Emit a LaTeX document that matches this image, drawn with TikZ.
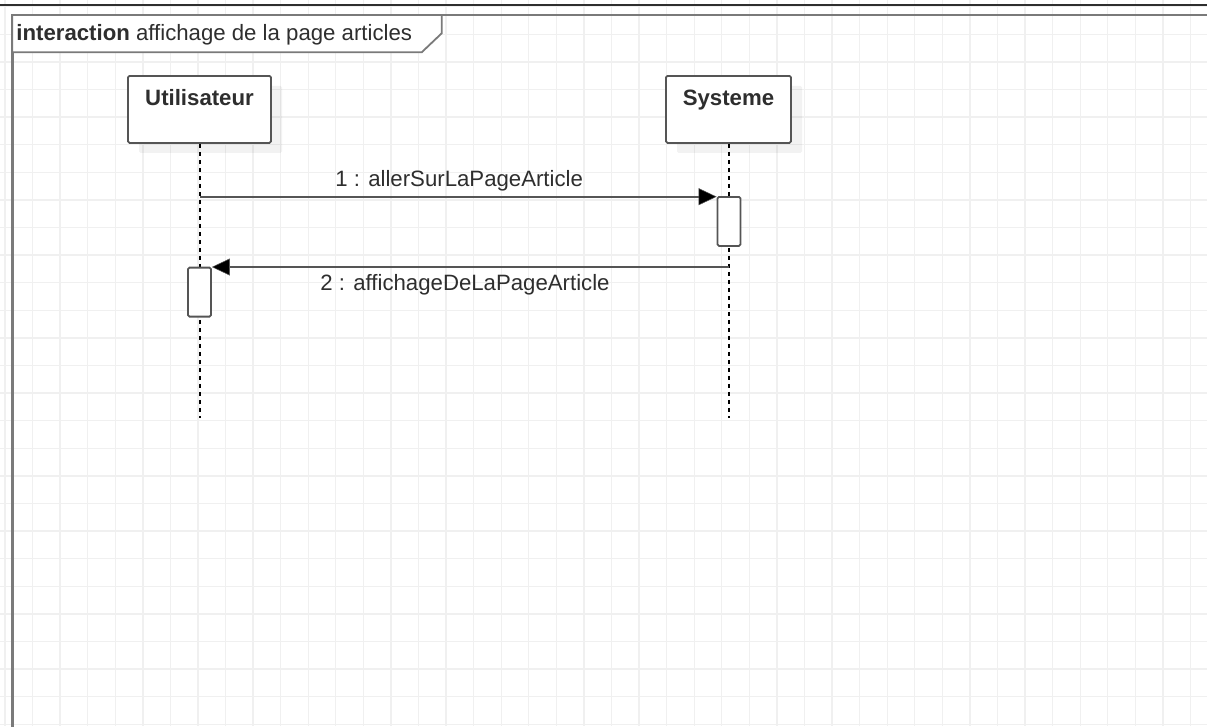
\documentclass[tikz,border=0pt]{standalone}
\usepackage{fontspec}
\setmainfont{Liberation Sans}
\usetikzlibrary{arrows.meta,shadows}

\definecolor{gridgray}{HTML}{F0F0F0}
\definecolor{framegray}{HTML}{7A7A7A}
\definecolor{linegray}{HTML}{555555}
\definecolor{textgray}{HTML}{2E2E2E}

\tikzset{
  gridline/.style={draw=gridgray, line width=1.3pt},
  umltext/.style={font=\fontsize{22.2}{25}\selectfont, text=textgray, inner sep=0pt},
  headbox/.style={draw=linegray, line width=1.8pt, fill=white, rounded corners=1.5pt,
    minimum width=143pt, inner xsep=0pt, inner ysep=0pt,
    text height=30pt, text depth=37pt, anchor=north,
    font=\bfseries\fontsize{22.2}{25}\selectfont, text=textgray,
    drop shadow={shadow xshift=11pt, shadow yshift=-10pt, fill=black, opacity=0.05}},
  actbox/.style={draw=linegray, line width=1.8pt, fill=white, rounded corners=1.5pt,
    minimum width=23pt, minimum height=49pt, inner sep=0pt, anchor=north},
  lifeline/.style={draw=black, line width=1.4pt, dash pattern=on 4pt off 4pt},
  message/.style={draw=linegray, line width=1.8pt,
    -{Triangle[length=18pt,width=17pt,fill=black,line width=0.5pt]}},
}

\begin{document}
\begin{tikzpicture}[x=1pt, y=-1pt]
  \useasboundingbox (0,0) rectangle (1207,726);
  \clip (0,0) rectangle (1207,726);
  \fill[white] (0,0) rectangle (1207,726);

  % background grid
  \foreach \k in {0,...,43}
    \draw[gridline] ({5+27.57*\k},0) -- ({5+27.57*\k},726);
  \foreach \k in {0,...,26}
    \draw[gridline] (0,{6.7+27.6*\k}) -- (1207,{6.7+27.6*\k});

  % top rule and interaction frame
  \draw[textgray, line width=1.2pt] (0,5) -- (1207,5);
  \draw[framegray, line width=2.4pt] (12.3,730) -- (12.3,15) -- (1212,15);
  \draw[framegray, line width=1.8pt, fill=white]
    (12.3,15) -- (441.7,15) -- (441.7,33.3) -- (421.7,52.3) -- (12.3,52.3) -- cycle;
  \node[umltext, anchor=base west] (title) at (16.2,40)
    {\textbf{interaction} affichage de la page articles};

  % lifeline heads
  \node[headbox] (user) at (199.5,75) {Utilisateur};
  \node[headbox, minimum width=125pt] (sys) at (728.5,75) {Systeme};

  % lifeline ends
  \coordinate (userEnd) at (200,418);
  \coordinate (sysEnd) at (729,418);
  \draw[lifeline] (user.south -| userEnd) -- (userEnd);
  \draw[lifeline] (sys.south -| sysEnd) -- (sysEnd);

  % activation bars
  \node[actbox] (sysAct) at (729,196) {};
  \node[actbox] (userAct) at (199.5,266.7) {};

  % messages
  \coordinate (m1from) at (200,196.7);
  \coordinate (m2from) at (729,267);
  \draw[message] (m1from) -- (m1from -| sysAct.west);
  \draw[message] (m2from) -- (m2from -| userAct.east);

  \node[umltext, anchor=base] (m1label) at (459.2,186.7) {1 : allerSurLaPageArticle};
  \node[umltext, anchor=base] (m2label) at (465,290.7) {2 : affichageDeLaPageArticle};
\end{tikzpicture}
\end{document}
